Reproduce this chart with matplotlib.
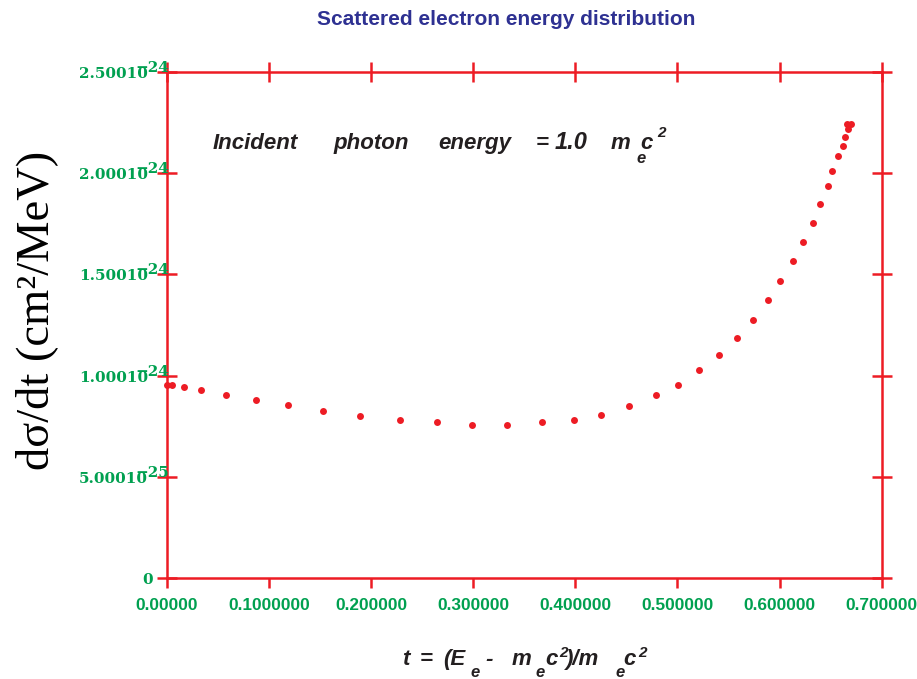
import matplotlib.pyplot as plt
from matplotlib.transforms import offset_copy

# t = (Ee - mec2)/mec2 and dsigma/dt in units of 1e-24 cm2/MeV
t_vals = [0.0000, 0.0050, 0.0169, 0.0339, 0.0584, 0.0875, 0.1191, 0.1531,
          0.1893, 0.2285, 0.2650, 0.2993, 0.3330, 0.3673, 0.3989, 0.4254,
          0.4525, 0.4792, 0.5008, 0.5216, 0.5403, 0.5583, 0.5739, 0.5886,
          0.6007, 0.6131, 0.6229, 0.6323, 0.6399, 0.6470, 0.6516, 0.6570,
          0.6617, 0.6641, 0.6666, 0.6658, 0.6700]
dsig_vals = [0.9556, 0.9556, 0.9427, 0.9309, 0.9062, 0.8800, 0.8554, 0.8258,
             0.8011, 0.7828, 0.7700, 0.7582, 0.7582, 0.7700, 0.7828, 0.8075,
             0.8504, 0.9062, 0.9556, 1.0281, 1.1022, 1.1876, 1.2734, 1.3722,
             1.4689, 1.5676, 1.6584, 1.7522, 1.8490, 1.9348, 2.0089, 2.0834,
             2.1333, 2.1797, 2.2167, 2.2438, 2.2438]

xticks = [0.0, 0.1, 0.2, 0.3, 0.4, 0.5, 0.6, 0.7]
xtick_labels = ['0.00000', '0.1000000', '0.200000', '0.300000',
                '0.400000', '0.500000', '0.600000', '0.700000']
yticks = [0.0, 0.5e-24, 1.0e-24, 1.5e-24, 2.0e-24, 2.5e-24]
ytick_base = ['0', '5.00010', '1.00010', '1.50010', '2.00010', '2.50010']
ytick_exp = ['', '\u221225', '\u221224', '\u221224', '\u221224', '\u221224']

red = '#ed1c24'
green = '#00a050'
blue = '#2e3192'
dark = '#231f20'

W, H = 917, 679
fig = plt.figure(figsize=(W / 100, H / 100), dpi=100)
ax = fig.add_axes([166.7 / W, 1 - 578.3 / H, 715 / W, 506.6 / H])

y_plot = [v * 1e-24 for v in dsig_vals]
ax.plot(t_vals, y_plot, 'o', color=red, ms=5, mec='none', clip_on=False)

ax.set_xlim(0, 0.7)
ax.set_ylim(0, 2.5e-24)

for s in ax.spines.values():
    s.set_color(red)
    s.set_linewidth(1.8)

ax.set_xticks(xticks)
ax.set_xticklabels(xtick_labels, fontfamily='Liberation Sans', fontweight='bold',
                   fontsize=12.4, color=green)
ax.set_yticks(yticks)
ax.tick_params(axis='x', which='both', top=True, bottom=True, direction='out',
               length=7.5, width=1.8, color=red, pad=7)
ax.tick_params(axis='y', which='both', left=True, right=True, direction='inout',
               length=15, width=1.8, color=red, labelleft=False)
# top ticks cross the axis
for tk in ax.xaxis.get_major_ticks():
    tk.tick2line.set_marker('|')
    tk.tick2line.set_markersize(15)

# y tick labels: mantissa + raised exponent
trans = ax.get_yaxis_transform()
base_tr = offset_copy(trans, fig=fig, y=-6, units='dots')
for yv, base, ex in zip(yticks, ytick_base, ytick_exp):
    xb = -0.026 if ex else -0.019
    ax.text(xb, yv, base, transform=base_tr, ha='right', va='baseline',
            fontfamily='DejaVu Serif', fontweight='bold', fontsize=11,
            color=green, clip_on=False)
    if ex:
        ax.text(0.0037, yv, ex, transform=trans, ha='right', va='baseline',
                fontfamily='DejaVu Serif', fontweight='bold', fontsize=11,
                color=green, clip_on=False)


def put(x, y, s, size=16, color=dark, **kw):
    fig.text(x / W, 1 - y / H, s, ha='left', va='baseline', color=color,
             fontfamily='Liberation Sans', fontweight='bold', fontstyle='italic',
             fontsize=size, **kw)


# title
fig.text(506 / W, 1 - 25 / H, 'Scattered electron energy distribution',
         ha='center', va='baseline', color=blue, fontfamily='Liberation Sans',
         fontweight='bold', fontsize=15)

# annotation
put(213, 149, 'Incident')
put(333, 149, 'photon')
put(438, 149, 'energy')
put(536, 149, '=')
put(555, 149, '1.0', size=17)
put(611, 149, 'm')
put(636, 163, 'e', size=12)
put(640, 149, 'c')
put(657, 137, '2', size=11)

# x label
put(401.7, 665, 't')
put(420, 665, '=')
put(443, 665, '(E')
put(470, 676.7, 'e', size=12)
put(485, 665, '-')
put(511.7, 665, 'm')
put(535, 676.7, 'e', size=12)
put(545, 665, 'c')
put(559, 656.7, '2', size=11)
put(566, 665, ')/m')
put(615, 676.7, 'e', size=12)
put(623, 665, 'c')
put(638, 656.7, '2', size=11)

# y label
fig.text(37 / W, 1 - 310 / H, 'd\u03c3/dt (cm\u00b2/MeV)', rotation=90,
         ha='center', va='center', fontfamily='Liberation Serif', fontsize=33.5,
         color='black')

fig.savefig('out.png', dpi=100)
